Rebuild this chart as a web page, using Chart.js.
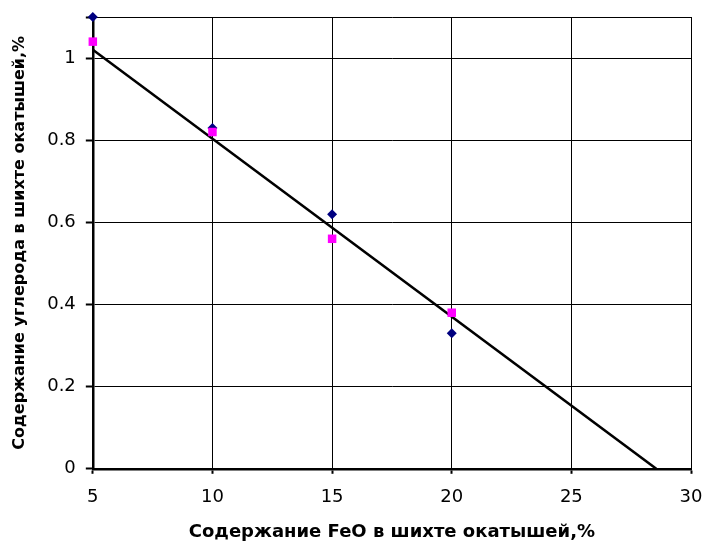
<!DOCTYPE html>
<html>
<head>
<meta charset="utf-8">
<script src="https://cdn.jsdelivr.net/npm/chart.js@4/dist/chart.umd.min.js"></script>
<style>
    body { margin: 0; background: #fff; }
    #wrap { width: 705px; height: 543px; }
</style>
</head>
<body>
<div id="wrap"><canvas id="feoChart"></canvas></div>
<script>
// FeO content in pellet charge, %
const feoValues = [5, 10, 15, 20];
// carbon content, two measurement series
const carbonSeries1 = [1.10, 0.83, 0.62, 0.33];
const carbonSeries2 = [1.04, 0.82, 0.56, 0.38];
// trend line end points
const trendX = [5, 28.55];
const trendY = [1.02, 0];
const yTickLabels = [0, 0.2, 0.4, 0.6, 0.8, 1];

function toPoints(xs, ys) {
    return xs.map((x, i) => ({ x: x, y: ys[i] }));
}

Chart.defaults.font.family = '"DejaVu Sans", sans-serif';
Chart.defaults.color = '#000';

const ctx = document.getElementById('feoChart').getContext('2d');
new Chart(ctx, {
    type: 'scatter',
    data: {
        datasets: [
            {
                label: 'trend',
                data: toPoints(trendX, trendY),
                showLine: true,
                borderColor: '#000',
                borderWidth: 2.5,
                pointRadius: 0,
                order: 3
            },
            {
                label: 'series 1',
                data: toPoints(feoValues, carbonSeries1),
                pointStyle: 'rectRot',
                pointRadius: 5,
                backgroundColor: '#000080',
                borderColor: '#000080',
                borderWidth: 0,
                clip: false,
                order: 2
            },
            {
                label: 'series 2',
                data: toPoints(feoValues, carbonSeries2),
                pointStyle: 'rect',
                pointRadius: 6,
                backgroundColor: '#ff00ff',
                borderColor: '#ff00ff',
                borderWidth: 0,
                clip: false,
                order: 1
            }
        ]
    },
    options: {
        responsive: true,
        maintainAspectRatio: false,
        animation: false,
        layout: { padding: { top: 17, right: 14, left: 10, bottom: 0 } },
        plugins: {
            legend: { display: false },
            tooltip: { enabled: false }
        },
        scales: {
            x: {
                type: 'linear',
                min: 5,
                max: 30,
                ticks: { stepSize: 5, font: { size: 18 }, padding: 13 },
                grid: { color: '#000', lineWidth: 1, tickLength: 5, tickWidth: 2 },
                border: { color: '#000', width: 2.5 },
                title: {
                    display: true,
                    text: 'Содержание FeO в шихте окатышей,%',
                    font: { size: 18, weight: 'bold' },
                    padding: { top: 0, bottom: 0 }
                },
                // labels may overhang, plot edges are set by layout padding
                afterFit: function (scale) {
                    scale.paddingLeft = 0;
                    scale.paddingRight = 0;
                }
            },
            y: {
                min: 0,
                max: 1.1,
                ticks: {
                    stepSize: 0.2,
                    font: { size: 18 },
                    padding: 10,
                    callback: function (v) {
                        const hit = yTickLabels.find(t => Math.abs(t - v) < 1e-6);
                        return hit === undefined ? '' : String(hit);
                    }
                },
                grid: { color: '#000', lineWidth: 1, tickLength: 7, tickWidth: 2 },
                border: { color: '#000', width: 2.5 },
                title: {
                    display: true,
                    text: 'Содержание углерода в шихте окатышей,%',
                    font: { size: 16, weight: 'bold' },
                    padding: { top: 0, bottom: 8 }
                },
                afterFit: function (scale) {
                    scale.paddingTop = 0;
                    scale.paddingBottom = 0;
                }
            }
        }
    }
});
</script>
</body>
</html>
